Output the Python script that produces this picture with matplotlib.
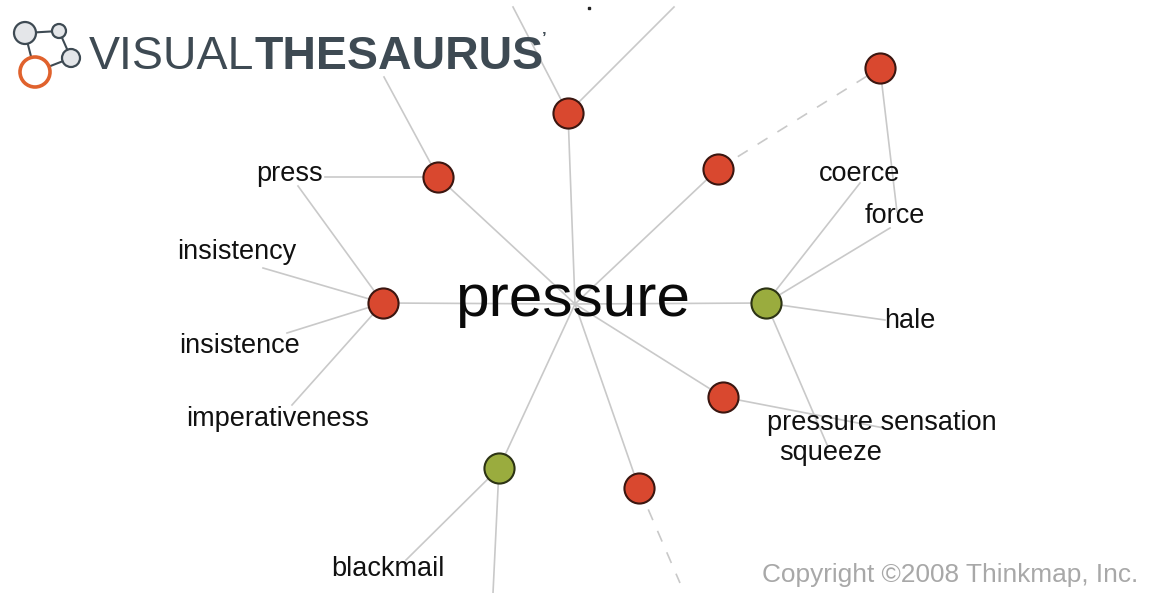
import matplotlib
matplotlib.use('Agg')
import matplotlib.pyplot as plt
from matplotlib.patches import Circle

plt.rcParams['font.family'] = ['Liberation Sans', 'DejaVu Sans']

# graph nodes (pixel coords of the original layout, y down)
hub = (575, 304)
node_names = ['A', 'B', 'C', 'D', 'E', 'F', 'G', 'H', 'I']
node_x = [568, 438, 718, 880, 383, 723, 639, 766, 499]
node_y = [113, 177, 169, 68, 303, 397, 488, 303, 468]
node_kind = ['red', 'red', 'red', 'red', 'red', 'red', 'red', 'green', 'green']
hub_links = ['A', 'B', 'C', 'E', 'F', 'G', 'H', 'I']

# words around the graph
words = ['press', 'insistency', 'insistence', 'imperativeness', 'coerce', 'force',
         'hale', 'pressure sensation', 'squeeze', 'blackmail']
word_x = [290, 237, 240, 278, 860, 895, 910, 882, 831, 388]
word_y = [181, 259, 353, 426, 181, 223, 328, 430, 460, 576]

# edges from a node to a free end (word anchor or off-screen)
edge_from = ['A', 'A', 'B', 'B', 'E', 'E', 'E', 'E', 'D', 'H', 'H', 'H', 'H', 'F', 'I', 'I']
edge_to_x = [513, 674, 325, 384, 298, 263, 287, 292, 897, 860, 890, 885, 828, 884, 406, 493]
edge_to_y = [7, 7, 177, 77, 186, 268, 333, 405, 212, 183, 228, 320, 447, 428, 560, 593]

# dashed edges
dash_from = ['C', 'G']
dash_to_x = [880, 680]
dash_to_y = [68, 583]

pos = {n: (x, y) for n, x, y in zip(node_names, node_x, node_y)}
fill = {'red': '#d9482f', 'green': '#9aac3e'}
edge_c = {'red': '#3b1610', 'green': '#2c3314'}
line_c = '#c9c9c9'

fig = plt.figure(figsize=(11.51, 5.93), dpi=100)
ax = fig.add_axes([0, 0, 1, 1])
ax.set_xlim(0, 1151)
ax.set_ylim(593, 0)
ax.axis('off')

for n in hub_links:
    x, y = pos[n]
    ax.plot([hub[0], x], [hub[1], y], color=line_c, lw=1.2, zorder=1)
for n, tx, ty in zip(edge_from, edge_to_x, edge_to_y):
    x, y = pos[n]
    ax.plot([x, tx], [y, ty], color=line_c, lw=1.2, zorder=1)
for n, tx, ty in zip(dash_from, dash_to_x, dash_to_y):
    x, y = pos[n]
    ax.plot([x, tx], [y, ty], color=line_c, lw=1.2, dashes=(7, 7), zorder=1)

for kind in ['red', 'green']:
    xs = [x for x, k in zip(node_x, node_kind) if k == kind]
    ys = [y for y, k in zip(node_y, node_kind) if k == kind]
    ax.scatter(xs, ys, s=470, color=fill[kind], edgecolors=edge_c[kind],
               linewidths=1.5, zorder=3)

for w, x, y in zip(words, word_x, word_y):
    ax.text(x, y, w, fontsize=19.5, color='#111111', ha='center', va='baseline', zorder=4)

ax.text(573, 316, 'pressure', fontsize=43.5, color='#0a0a0a', ha='center', va='baseline', zorder=4)

ax.text(950, 582, 'Copyright \u00a92008 Thinkmap, Inc.', fontsize=18.9, color='#a8a8a8',
        ha='center', va='baseline')

# logo
logo_gray = '#3e4a53'
ax.plot([25, 59], [33, 31], color=logo_gray, lw=1.5, zorder=6)
ax.plot([59, 71], [31, 58], color=logo_gray, lw=1.5, zorder=6)
ax.plot([71, 35], [58, 72], color=logo_gray, lw=1.5, zorder=6)
ax.plot([25, 35], [33, 72], color=logo_gray, lw=1.5, zorder=6)
for cx, cy, r in [(25, 33, 11), (59, 31, 7), (71, 58, 9)]:
    ax.add_patch(Circle((cx, cy), r, facecolor='#e4e6e9', edgecolor=logo_gray, lw=1.6, zorder=7))
ax.add_patch(Circle((35, 72), 15, facecolor='white', edgecolor='#e0622d', lw=2.6, zorder=7))
ax.text(89, 69, 'VISUAL', fontsize=33.5, color=logo_gray, ha='left', va='baseline', zorder=8)
ax.text(255, 69, 'THESAURUS', fontsize=33.5, fontweight='bold', color=logo_gray,
        ha='left', va='baseline', zorder=8)
ax.text(542, 44, '\u2019', fontsize=12, fontweight='bold', color=logo_gray, zorder=8)
ax.plot([589], [8], marker='s', ms=2, color='#222222')

fig.savefig('out.png', dpi=100, facecolor='white')
